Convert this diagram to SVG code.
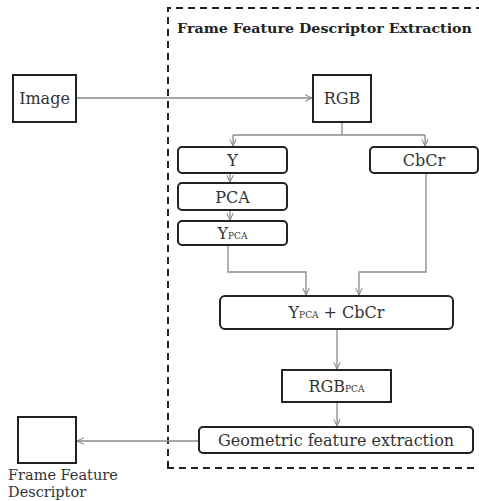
<svg xmlns="http://www.w3.org/2000/svg" width="479" height="501" viewBox="0 0 479 501">
<defs>
<style>
.box{fill:#fff;stroke:#222;stroke-width:2}
.ln{fill:none;stroke:#8a8a8a;stroke-width:1.3}
.t{font-family:"DejaVu Serif","Liberation Serif",serif;font-size:16px;fill:#333;text-anchor:middle}
.sub{font-size:9px}
.title{font-family:"DejaVu Serif","Liberation Serif",serif;font-size:13px;font-weight:bold;fill:#222}
.lab{font-family:"DejaVu Serif","Liberation Serif",serif;font-size:14.5px;fill:#333}
</style>
<marker id="ar" viewBox="0 0 10 10" refX="9.5" refY="5" markerWidth="8" markerHeight="8" orient="auto" markerUnits="userSpaceOnUse">
<path d="M1,1 L9.5,5 L1,9" fill="none" stroke="#8a8a8a" stroke-width="1.3"/>
</marker>
</defs>
<rect width="479" height="501" fill="#fff"/>
<g id="frame">
<path d="M168,468 L168,8 L485,8 L485,468 Z" fill="none" stroke="#222" stroke-width="2" stroke-dasharray="7,5"/>
<text class="title" x="177" y="33" textLength="295" lengthAdjust="spacingAndGlyphs">Frame Feature Descriptor Extraction</text>
</g>
<g id="connectors">
<line class="ln" x1="76" y1="98" x2="312" y2="98" marker-end="url(#ar)"/>
<path class="ln" d="M342,122 V135"/>
<path class="ln" d="M233,135 H425"/>
<line class="ln" x1="233" y1="135" x2="233" y2="146" marker-end="url(#ar)"/>
<line class="ln" x1="425" y1="135" x2="425" y2="146" marker-end="url(#ar)"/>
<line class="ln" x1="230" y1="173" x2="230" y2="182" marker-end="url(#ar)"/>
<line class="ln" x1="230" y1="210" x2="230" y2="220" marker-end="url(#ar)"/>
<path class="ln" d="M228,245 V272 H306 V295" marker-end="url(#ar)"/>
<path class="ln" d="M426,173 V272 H359 V295" marker-end="url(#ar)"/>
<line class="ln" x1="337" y1="329" x2="337" y2="369" marker-end="url(#ar)"/>
<line class="ln" x1="337" y1="402" x2="337" y2="426" marker-end="url(#ar)"/>
<line class="ln" x1="199" y1="441" x2="77" y2="441" marker-end="url(#ar)"/>
</g>
<g id="image"><rect class="box" x="13" y="75" width="63" height="47"/><text class="t" x="44.5" y="104">Image</text></g>
<g id="rgb"><rect class="box" x="313" y="75" width="58" height="47"/><text class="t" x="342" y="104">RGB</text></g>
<g id="y"><rect class="box" x="178" y="147" width="109" height="26" rx="4"/><text class="t" x="232.5" y="166">Y</text></g>
<g id="cbcr"><rect class="box" x="370" y="147" width="108" height="26" rx="4"/><text class="t" x="424" y="166">CbCr</text></g>
<g id="pca"><rect class="box" x="178" y="183" width="109" height="27" rx="4"/><text class="t" x="232.5" y="202.5">PCA</text></g>
<g id="ypca"><rect class="box" x="178" y="221" width="109" height="24" rx="4"/><text class="t" x="232.5" y="238.5">Y<tspan class="sub">PCA</tspan></text></g>
<g id="ypca_cbcr"><rect class="box" x="220" y="296" width="233" height="33" rx="5"/><text class="t" x="336.5" y="318">Y<tspan class="sub">PCA</tspan> + CbCr</text></g>
<g id="rgbpca"><rect class="box" x="282" y="370" width="109" height="32"/><text class="t" x="336.5" y="391.5">RGB<tspan class="sub">PCA</tspan></text></g>
<g id="geo"><rect class="box" x="199" y="427" width="274" height="26" rx="4"/><text class="t" x="336" y="446">Geometric feature extraction</text></g>
<g id="output"><rect class="box" x="18" y="417" width="58" height="46"/>
<text class="lab" x="8" y="480">Frame Feature</text><text class="lab" x="8" y="497">Descriptor</text></g>
</svg>
